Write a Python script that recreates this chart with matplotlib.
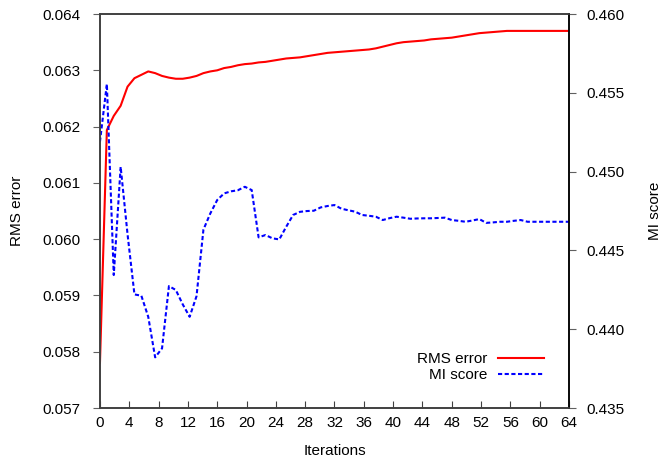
import numpy as np
import matplotlib
matplotlib.use('Agg')
import matplotlib.pyplot as plt

plt.rcParams['font.family'] = ['Liberation Sans', 'DejaVu Sans']
plt.rcParams['font.size'] = 11

# 69 samples spread over 0..64 iterations
iterations = np.linspace(0, 64, 69)

rms_error = [0.05780, 0.06194, 0.06219, 0.06237, 0.06271, 0.06286, 0.06292, 0.06298, 0.06295,
             0.06290, 0.06287, 0.06285, 0.06285, 0.06287, 0.06290, 0.06295, 0.06298, 0.06300,
             0.06304, 0.06306, 0.06309, 0.06311, 0.06312, 0.06314, 0.06315, 0.06317, 0.06319,
             0.06321, 0.06322, 0.06323, 0.06325, 0.06327, 0.06329, 0.06331, 0.06332, 0.06333,
             0.06334, 0.06335, 0.06336, 0.06337, 0.06339, 0.06342, 0.06345, 0.06348, 0.06350,
             0.06351, 0.06352, 0.06353, 0.06355, 0.06356, 0.06357, 0.06358, 0.06360, 0.06362,
             0.06364, 0.06366, 0.06367, 0.06368, 0.06369, 0.06370, 0.06370, 0.06370, 0.06370,
             0.06370, 0.06370, 0.06370, 0.06370, 0.06370, 0.06370]

mi_score = [0.45190, 0.45556, 0.44344, 0.45031, 0.44602, 0.44221, 0.44213, 0.44079, 0.43822,
            0.43879, 0.44274, 0.44249, 0.44158, 0.44079, 0.44210, 0.44632, 0.44735, 0.44820,
            0.44862, 0.44875, 0.44882, 0.44904, 0.44883, 0.44583, 0.44598, 0.44577, 0.44570,
            0.44650, 0.44725, 0.44745, 0.44750, 0.44752, 0.44773, 0.44782, 0.44788, 0.44765,
            0.44755, 0.44746, 0.44725, 0.44720, 0.44714, 0.44693, 0.44705, 0.44714, 0.44708,
            0.44701, 0.44703, 0.44704, 0.44704, 0.44706, 0.44708, 0.44693, 0.44688, 0.44682,
            0.44690, 0.44699, 0.44675, 0.44678, 0.44682, 0.44682, 0.44688, 0.44693, 0.44682,
            0.44682, 0.44682, 0.44682, 0.44682, 0.44682, 0.44682]

fig = plt.figure(figsize=(6.62, 4.58), dpi=100)
ax = fig.add_axes([0.151, 0.109, 0.7085, 0.8604])
ax2 = ax.twinx()

l1, = ax.plot(iterations, rms_error, color='#ff0000', lw=1.5, label='RMS error')
l2, = ax2.plot(iterations, mi_score, color='#0000ff', lw=1.5, ls=(0, (2, 1.2)), label='MI score')

ax.set_xlim(0, 64)
ax.set_ylim(0.057, 0.064)
ax2.set_ylim(0.435, 0.460)
ax.set_xticks(np.arange(0, 65, 4))
ax.set_yticks(np.arange(0.057, 0.06401, 0.001))
ax2.set_yticks(np.arange(0.435, 0.46001, 0.005))
ax.yaxis.set_major_formatter(matplotlib.ticker.FormatStrFormatter('%.3f'))
ax2.yaxis.set_major_formatter(matplotlib.ticker.FormatStrFormatter('%.3f'))

ax.set_xlabel('Iterations')
ax.set_ylabel('RMS error')
ax2.set_ylabel('MI score')
ax.xaxis.set_label_coords(0.5, -0.091)
ax.yaxis.set_label_coords(-0.161, 0.5)
ax2.yaxis.set_label_coords(1.168, 0.5)

for a in (ax, ax2):
    for s in a.spines.values():
        s.set_color('#404040')
        s.set_linewidth(1.2)
ax.tick_params(axis='x', direction='in', length=5, color='#404040', pad=6)
ax.tick_params(axis='y', direction='out', length=5, color='#606060', pad=9)
ax2.tick_params(axis='y', direction='out', length=5, color='#606060', pad=7.5)
ax2.spines['right'].set_color('black')

leg = ax.legend(handles=[l1, l2], loc='lower right', bbox_to_anchor=(0.963, 0.047),
                frameon=False, markerfirst=False, handlelength=3.0,
                handletextpad=0.7, labelspacing=0.1, borderpad=0)
for t in leg.get_texts():
    t.set_ha('right')

fig.savefig('out.png', dpi=100)
